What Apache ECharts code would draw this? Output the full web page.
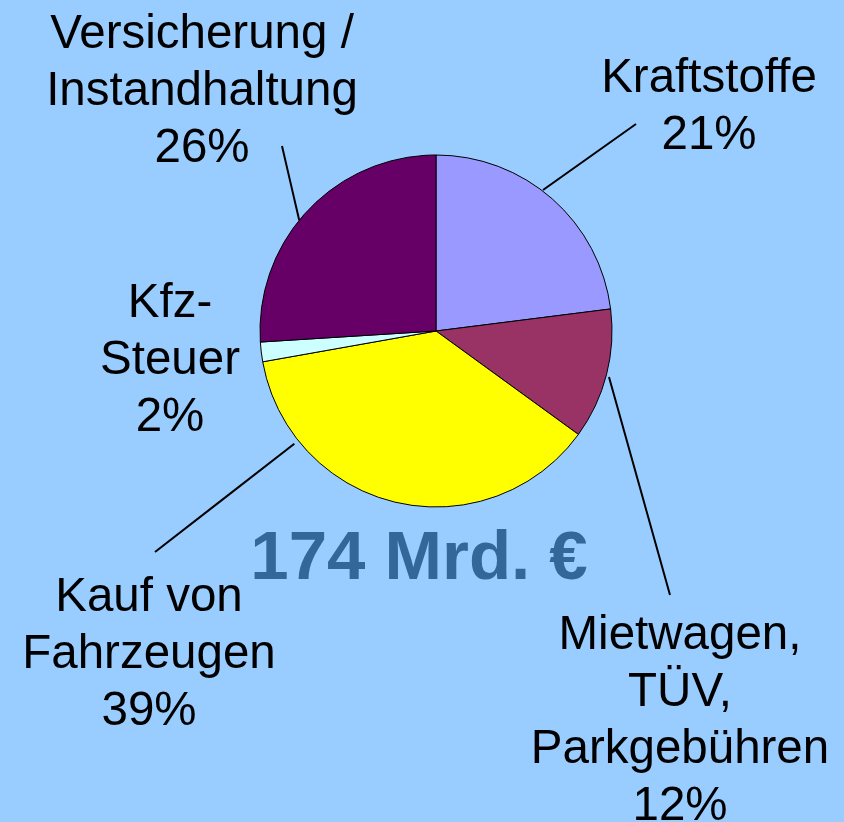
<!DOCTYPE html>
<html>
<head>
<meta charset="utf-8">
<script src="https://cdn.jsdelivr.net/npm/echarts@6/dist/echarts.min.js"></script>
<style>
  html, body { margin: 0; padding: 0; background: #99ccff; }
  #chart { width: 844px; height: 822px; }
</style>
</head>
<body>
<div id="chart"></div>
<script>
// slices, clockwise from 12 o'clock
const categories = ['Kraftstoffe', 'Mietwagen,\nTÜV,\nParkgebühren', 'Kauf von\nFahrzeugen', 'Kfz-\nSteuer', 'Versicherung /\nInstandhaltung'];
// share of the circle as drawn
const sliceShares = [23, 12, 37.2, 1.8, 26];
// percentages printed in the labels
const labelPercents = [21, 12, 39, 2, 26];
const colors = ['#9999ff', '#993366', '#ffff00', '#ccffff', '#660066'];
const totalText = '174 Mrd. €';

// layout: label centre, leader line (start angle/radius from pie centre, end point)
const pieCenter = [436, 331];
const pieRadius = 176;
const labelPos = [[709, 107], [680, 721], [149, 655], [170, 361], [202, 92]];
const leaders = [
    { angle: 37.2, r: 177, end: [636, 124] },
    { angle: 104.9, r: 179, end: [670, 595] },
    { angle: 231.5, r: 181, end: [155, 552] },
    null,
    { angle: 309, r: 176, end: [282, 146] }
];

const chart = echarts.init(document.getElementById('chart'), null, { renderer: 'canvas' });

const seriesData = categories.map((name, i) => ({
    name: name,
    value: sliceShares[i],
    itemStyle: { color: colors[i] },
    labelLine: { show: leaders[i] != null }
}));

chart.setOption({
    backgroundColor: '#99ccff',
    animation: false,
    graphic: [
        {
            type: 'text',
            x: 419,
            y: 560,
            style: {
                text: totalText,
                fill: '#336699',
                font: 'bold 69px "Liberation Sans", Arial, sans-serif',
                align: 'center',
                verticalAlign: 'middle'
            }
        }
    ],
    series: [
        {
            type: 'pie',
            center: pieCenter,
            radius: pieRadius,
            startAngle: 90,
            clockwise: true,
            avoidLabelOverlap: false,
            emphasis: { disabled: true },
            itemStyle: { borderColor: '#000', borderWidth: 1 },
            label: {
                show: true,
                position: 'outside',
                color: '#000',
                fontFamily: '"Liberation Sans", Arial, sans-serif',
                fontSize: 47.5,
                lineHeight: 57,
                align: 'center',
                formatter: (p) => p.name + '\n' + labelPercents[p.dataIndex] + '%'
            },
            labelLine: {
                show: true,
                lineStyle: { color: '#000', width: 2 }
            },
            labelLayout: (params) => {
                const i = params.dataIndex;
                const out = {
                    x: labelPos[i][0],
                    y: labelPos[i][1],
                    align: 'center',
                    verticalAlign: 'middle'
                };
                const l = leaders[i];
                if (l) {
                    const a = l.angle * Math.PI / 180;
                    const sx = pieCenter[0] + l.r * Math.sin(a);
                    const sy = pieCenter[1] - l.r * Math.cos(a);
                    out.labelLinePoints = [[sx, sy], [(sx + l.end[0]) / 2, (sy + l.end[1]) / 2], l.end];
                }
                return out;
            },
            data: seriesData
        }
    ]
});
</script>
</body>
</html>
